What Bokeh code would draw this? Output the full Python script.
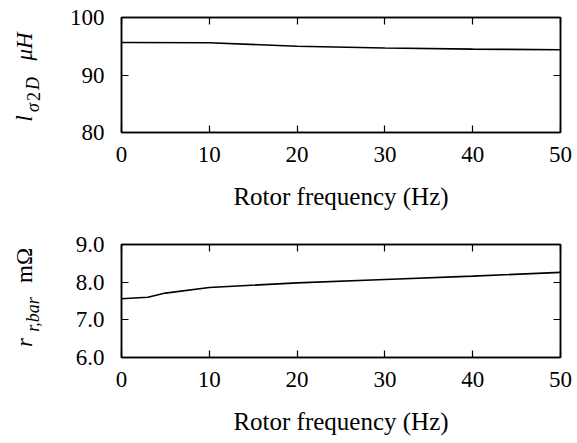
import math
from bokeh.plotting import figure
from bokeh.layouts import column, row
from bokeh.models import (Range1d, FixedTicker, LinearAxis, Label,
                          PrintfTickFormatter, CustomJSTickFormatter, ColumnDataSource)
from bokeh.embed import file_html
from bokeh.resources import INLINE

# ---- data ----
freq_top = [0, 10, 20, 30, 40, 50]
l_sigma_2d = [95.65, 95.6, 95.0, 94.7, 94.5, 94.4]

freq_bot = [0, 3, 5, 10, 20, 30, 40, 50]
r_bar = [7.56, 7.60, 7.71, 7.86, 7.98, 8.07, 8.16, 8.26]

x_ticks = [0, 10, 20, 30, 40, 50]
top_y_ticks = [80, 90, 100]
bot_y_ticks = [6, 7, 8, 9]
x_label = "Rotor frequency (Hz)"

FONT = "Liberation Serif"
LABEL_W = 50
TOTAL_H = 443


def make(height, border_top, border_bottom, y_range, y_ticks, y_fmt):
    p = figure(width=577 - LABEL_W, height=height, output_backend="svg", toolbar_location=None,
               x_range=Range1d(0, 50), y_range=Range1d(*y_range),
               min_border_left=121 - LABEL_W, min_border_right=17,
               min_border_top=border_top, min_border_bottom=border_bottom,
               background_fill_color="white", border_fill_color="white")
    p.grid.visible = False
    p.outline_line_color = "black"
    p.outline_line_width = 1.5

    p.xaxis[0].ticker = FixedTicker(ticks=x_ticks)
    p.xaxis[0].major_label_standoff = 14
    p.xaxis[0].axis_label = x_label
    p.xaxis[0].axis_label_standoff = 18
    p.yaxis[0].ticker = FixedTicker(ticks=y_ticks)
    p.yaxis[0].formatter = y_fmt
    p.yaxis[0].major_label_standoff = 17

    blank = CustomJSTickFormatter(code="return ''")
    p.add_layout(LinearAxis(ticker=FixedTicker(ticks=x_ticks), formatter=blank,
                            major_label_standoff=0), "above")
    p.add_layout(LinearAxis(ticker=FixedTicker(ticks=y_ticks), formatter=blank,
                            major_label_standoff=0), "right")

    p.axis.major_tick_in = 7
    p.axis.major_tick_out = 0
    p.axis.minor_tick_in = 0
    p.axis.minor_tick_out = 0
    p.axis.axis_line_color = "black"
    p.axis.axis_line_width = 1.5
    p.axis.major_tick_line_color = "black"
    p.axis.major_tick_line_width = 1.2
    p.axis.major_label_text_font = FONT
    p.axis.major_label_text_font_size = "23px"
    p.axis.major_label_text_color = "black"
    p.axis.axis_label_text_font = FONT
    p.axis.axis_label_text_font_size = "25px"
    p.axis.axis_label_text_font_style = "normal"
    p.axis.axis_label_text_color = "black"
    return p


# y-axis titles (with subscripts) drawn in a narrow strip on the left;
# each piece: text, font size, style, centre x, centre y (pixels from the strip's bottom)
def label_strip(pieces):
    lf = figure(width=LABEL_W, height=TOTAL_H, output_backend="svg", toolbar_location=None,
                x_axis_type=None, y_axis_type=None, title=None,
                x_range=Range1d(0, LABEL_W), y_range=Range1d(0, TOTAL_H),
                min_border_left=0, min_border_right=0, min_border_top=0, min_border_bottom=0,
                frame_width=LABEL_W, frame_height=TOTAL_H,
                outline_line_color=None,
                background_fill_color="white", border_fill_color="white")
    lf.grid.visible = False
    for text, size, style, x, y in pieces:
        lf.add_layout(Label(x=x, y=y, text=text, angle=math.pi / 2,
                            text_font=FONT, text_font_size=size,
                            text_font_style=style, text_color="black",
                            text_baseline="middle", text_align="center"))
    return lf


lab = label_strip([
    # top panel: l_{σ2D} μH
    ("l", "23px", "italic", 23.5, TOTAL_H - 118),
    ("σ", "18px", "italic", 32.5, TOTAL_H - 107),
    ("2", "18px", "normal", 32.5, TOTAL_H - 96),
    ("D", "18px", "italic", 32.5, TOTAL_H - 83),
    ("μH", "23px", "italic", 23.5, TOTAL_H - 46),
    # bottom panel: r_{r,bar} mΩ
    ("r", "23px", "italic", 23.5, TOTAL_H - 342),
    ("r,bar", "18px", "italic", 32.5, TOTAL_H - 314),
    ("mΩ", "23px", "normal", 23.5, TOTAL_H - 265),
])

p1 = make(220, 17, 88, (80, 100), top_y_ticks, PrintfTickFormatter(format="%d"))
p1.line(x="f", y="v", source=ColumnDataSource(dict(f=freq_top, v=l_sigma_2d)),
        line_color="black", line_width=1.6)

p2 = make(223, 24, 86, (6, 9), bot_y_ticks, PrintfTickFormatter(format="%.1f"))
p2.line(x="f", y="v", source=ColumnDataSource(dict(f=freq_bot, v=r_bar)),
        line_color="black", line_width=1.6)

layout = row(lab, column(p1, p2, spacing=0), spacing=0)
open("out.html", "w").write(file_html(layout, INLINE))
